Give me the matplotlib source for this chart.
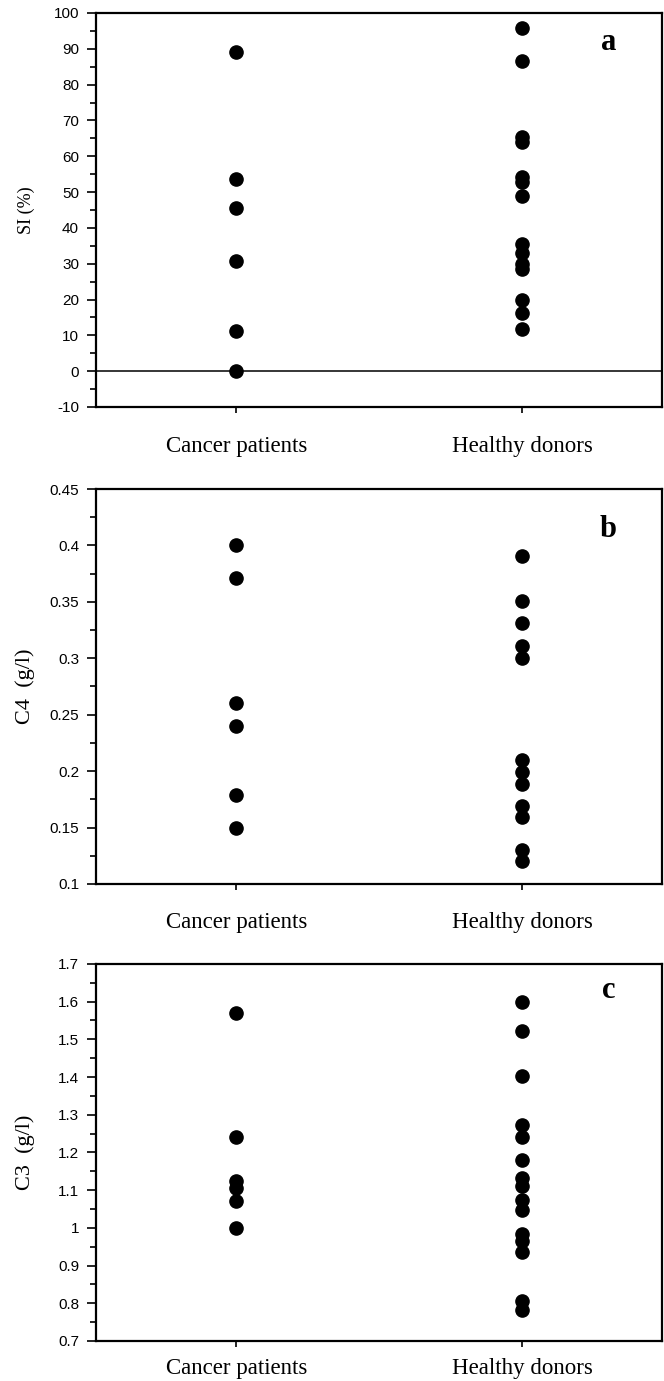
import numpy as np
import matplotlib.pyplot as plt
from matplotlib.ticker import MultipleLocator

groups = ['Cancer patients', 'Healthy donors']

# panel a: SI (%)
si_cancer = [89, 53.6, 45.6, 30.8, 11.1, 0]
si_healthy = [95.7, 86.6, 65.4, 64.0, 54.3, 52.8, 48.9, 35.6, 33.1, 29.8, 28.6, 20.0, 16.1, 11.8]

# panel b: C4 (g/l)
c4_cancer = [0.40, 0.371, 0.26, 0.24, 0.179, 0.15]
c4_healthy = [0.391, 0.351, 0.331, 0.311, 0.30, 0.21, 0.199, 0.189, 0.169, 0.159, 0.13, 0.12]

# panel c: C3 (g/l)
c3_cancer = [1.57, 1.242, 1.123, 1.105, 1.07, 1.0]
c3_healthy = [1.599, 1.523, 1.402, 1.273, 1.242, 1.181, 1.132, 1.112, 1.074, 1.048,
              0.983, 0.964, 0.935, 0.806, 0.782]

serif = ['Liberation Serif', 'DejaVu Serif']
sans = ['Liberation Sans', 'DejaVu Sans']

fig = plt.figure(figsize=(6.64, 13.81), dpi=100)

# data, ylabel, ylim, major step, minor step, letter, axes rect, ylabel size, x label pad, letter y
panels = [
    (si_cancer, si_healthy, 'SI (%)', (-10, 100), 10, 5, 'a',
     [0.1453, 0.7053, 0.8517, 0.2853], 13, 17, 0.906),
    (c4_cancer, c4_healthy, 'C4  (g/l)', (0.1, 0.45), 0.05, 0.025, 'b',
     [0.1453, 0.3599, 0.8517, 0.2860], 16, 16, 0.878),
    (c3_cancer, c3_healthy, 'C3  (g/l)', (0.7, 1.7), 0.1, 0.05, 'c',
     [0.1453, 0.0290, 0.8517, 0.2730], 16, 8.5, 0.910),
]

for cancer, healthy, ylabel, ylim, major, minor, letter, rect, ylfs, xpad, ly in panels:
    ax = fig.add_axes(rect)
    ax.plot(np.zeros(len(cancer)), cancer, 'o', color='black', markersize=9.5)
    ax.plot(np.ones(len(healthy)), healthy, 'o', color='black', markersize=9.5)
    if letter == 'a':
        ax.axhline(0, color='black', linewidth=1.1)
    ax.set_xlim(-0.49, 1.49)
    ax.set_ylim(*ylim)
    ax.yaxis.set_major_locator(MultipleLocator(major))
    ax.yaxis.set_minor_locator(MultipleLocator(minor))
    ax.yaxis.set_major_formatter(plt.FormatStrFormatter('%g'))
    ax.set_xticks([0, 1])
    ax.set_xticklabels(groups, fontfamily=serif, fontsize=16.5)
    ax.tick_params(axis='x', direction='out', length=4, width=1.2, pad=xpad)
    ax.tick_params(axis='y', which='major', direction='out', length=6.5, width=1.2,
                   labelsize=11, pad=6)
    ax.tick_params(axis='y', which='minor', direction='out', length=4, width=1.2)
    for lab in ax.get_yticklabels():
        lab.set_fontfamily(sans)
    ax.set_ylabel(ylabel, fontfamily=serif, fontsize=ylfs)
    ax.yaxis.set_label_coords(-0.108, 0.5)
    for s in ax.spines.values():
        s.set_linewidth(1.6)
    ax.text(0.905, ly, letter, transform=ax.transAxes, fontfamily=serif,
            fontsize=22, fontweight='bold', ha='center', va='baseline')

fig.savefig('out.png', dpi=100)
